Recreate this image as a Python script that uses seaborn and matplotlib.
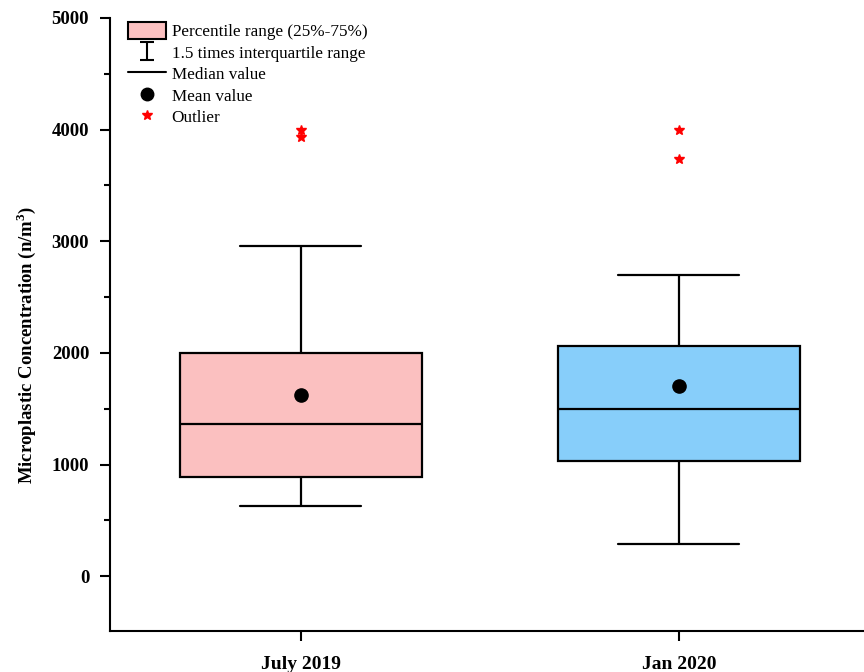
import numpy as np
import pandas as pd
import matplotlib
matplotlib.use('Agg')
import matplotlib.pyplot as plt
import seaborn as sns
from matplotlib.lines import Line2D
from matplotlib.patches import Patch
from matplotlib.path import Path
from matplotlib.ticker import MultipleLocator

# %% Data (observations read to match the box statistics in the figure)

seasons = ['July 2019', 'Jan 2020']
july_2019 = [630, 650, 700, 760, 890, 920, 980, 1100, 1360,
             1400, 1450, 1550, 2000, 2260, 2960, 3930, 4000]
jan_2020 = [290, 600, 800, 900, 1030, 1100, 1250, 1400, 1500,
            1600, 1750, 1900, 2060, 2280, 2700, 3740, 4000]
box_colours = ['#FBC0C0', '#87CEFA']

df = pd.DataFrame({'season': [seasons[0]] * len(july_2019) + [seasons[1]] * len(jan_2020),
                   'conc': july_2019 + jan_2020})

# %% Plot settings

sns.set_style('ticks')
plt.rcParams['font.family'] = ['Liberation Serif', 'DejaVu Serif']
plt.rcParams['mathtext.fontset'] = 'custom'
plt.rcParams['mathtext.rm'] = 'Liberation Serif'
plt.rcParams['mathtext.bf'] = 'Liberation Serif:bold'
for key in ['text.color', 'axes.labelcolor', 'xtick.color', 'ytick.color', 'axes.edgecolor']:
    plt.rcParams[key] = 'black'

fig = plt.figure(figsize = (8.64, 6.72), dpi = 100)
ax = fig.add_axes([110/864, (672-631)/672, 754/864, (631-18)/672])

sns.boxplot(data = df, x = 'season', y = 'conc', hue = 'season',
            order = seasons, hue_order = seasons,
            palette = box_colours, saturation = 1, legend = False,
            width = 0.64, whis = 1.5, linecolor = 'black', linewidth = 1.6,
            showmeans = True,
            meanprops = dict(marker = 'o', markerfacecolor = 'black',
                             markeredgecolor = 'black', markersize = 9.5),
            flierprops = dict(marker = '*', markerfacecolor = 'red',
                              markeredgecolor = 'red', markersize = 7),
            ax = ax)

# %% Axes

ax.set_xlim(-0.505, 1.49)
ax.set_ylim(-490, 5000)
ax.yaxis.set_major_locator(MultipleLocator(1000))
ax.yaxis.set_minor_locator(MultipleLocator(500))
ax.tick_params(axis = 'y', which = 'major', length = 7, width = 1.5,
               direction = 'out', labelsize = 13.5, pad = 8)
ax.tick_params(axis = 'x', which = 'major', length = 7, width = 1.5,
               direction = 'out', labelsize = 14, pad = 11)
ax.tick_params(axis = 'y', which = 'minor', length = 4, width = 1.5, direction = 'out')
for lab in ax.get_xticklabels() + ax.get_yticklabels():
    lab.set_fontweight('bold')

for side in ['top', 'right']:
    ax.spines[side].set_visible(False)
for side in ['left', 'bottom']:
    ax.spines[side].set_linewidth(1.5)

ax.set_xlabel('')
ax.set_ylabel(r'Microplastic Concentration (n/m$^\mathbf{3}$)',
              fontsize = 13.5, fontweight = 'bold')
ax.yaxis.set_label_coords(-0.095, 0.467)

# %% Legend

#Error bar style icon for the whisker entry
cap_path = Path([(-0.7, 1), (0.7, 1), (0, 1), (0, -1), (-0.7, -1), (0.7, -1)],
                [Path.MOVETO, Path.LINETO, Path.MOVETO, Path.LINETO,
                 Path.MOVETO, Path.LINETO])
handles = [Patch(facecolor = box_colours[0], edgecolor = 'black', linewidth = 1.5),
           Line2D([], [], linestyle = 'none', marker = cap_path, markersize = 13.5,
                  markeredgewidth = 1.5, color = 'black'),
           Line2D([], [], color = 'black', linewidth = 1.5),
           Line2D([], [], linestyle = 'none', marker = 'o', markersize = 9, color = 'black'),
           Line2D([], [], linestyle = 'none', marker = '*', markersize = 7, color = 'red')]
labels = ['Percentile range (25%-75%)', '1.5 times interquartile range',
          'Median value', 'Mean value', 'Outlier']
ax.legend(handles, labels, loc = 'upper left', bbox_to_anchor = (0.015, 1.004),
          frameon = False, fontsize = 12.3, handlelength = 2.2, handleheight = 1.1,
          handletextpad = 0.35, labelspacing = 0.2, borderaxespad = 0)

fig.savefig('out.png', dpi = 100)
